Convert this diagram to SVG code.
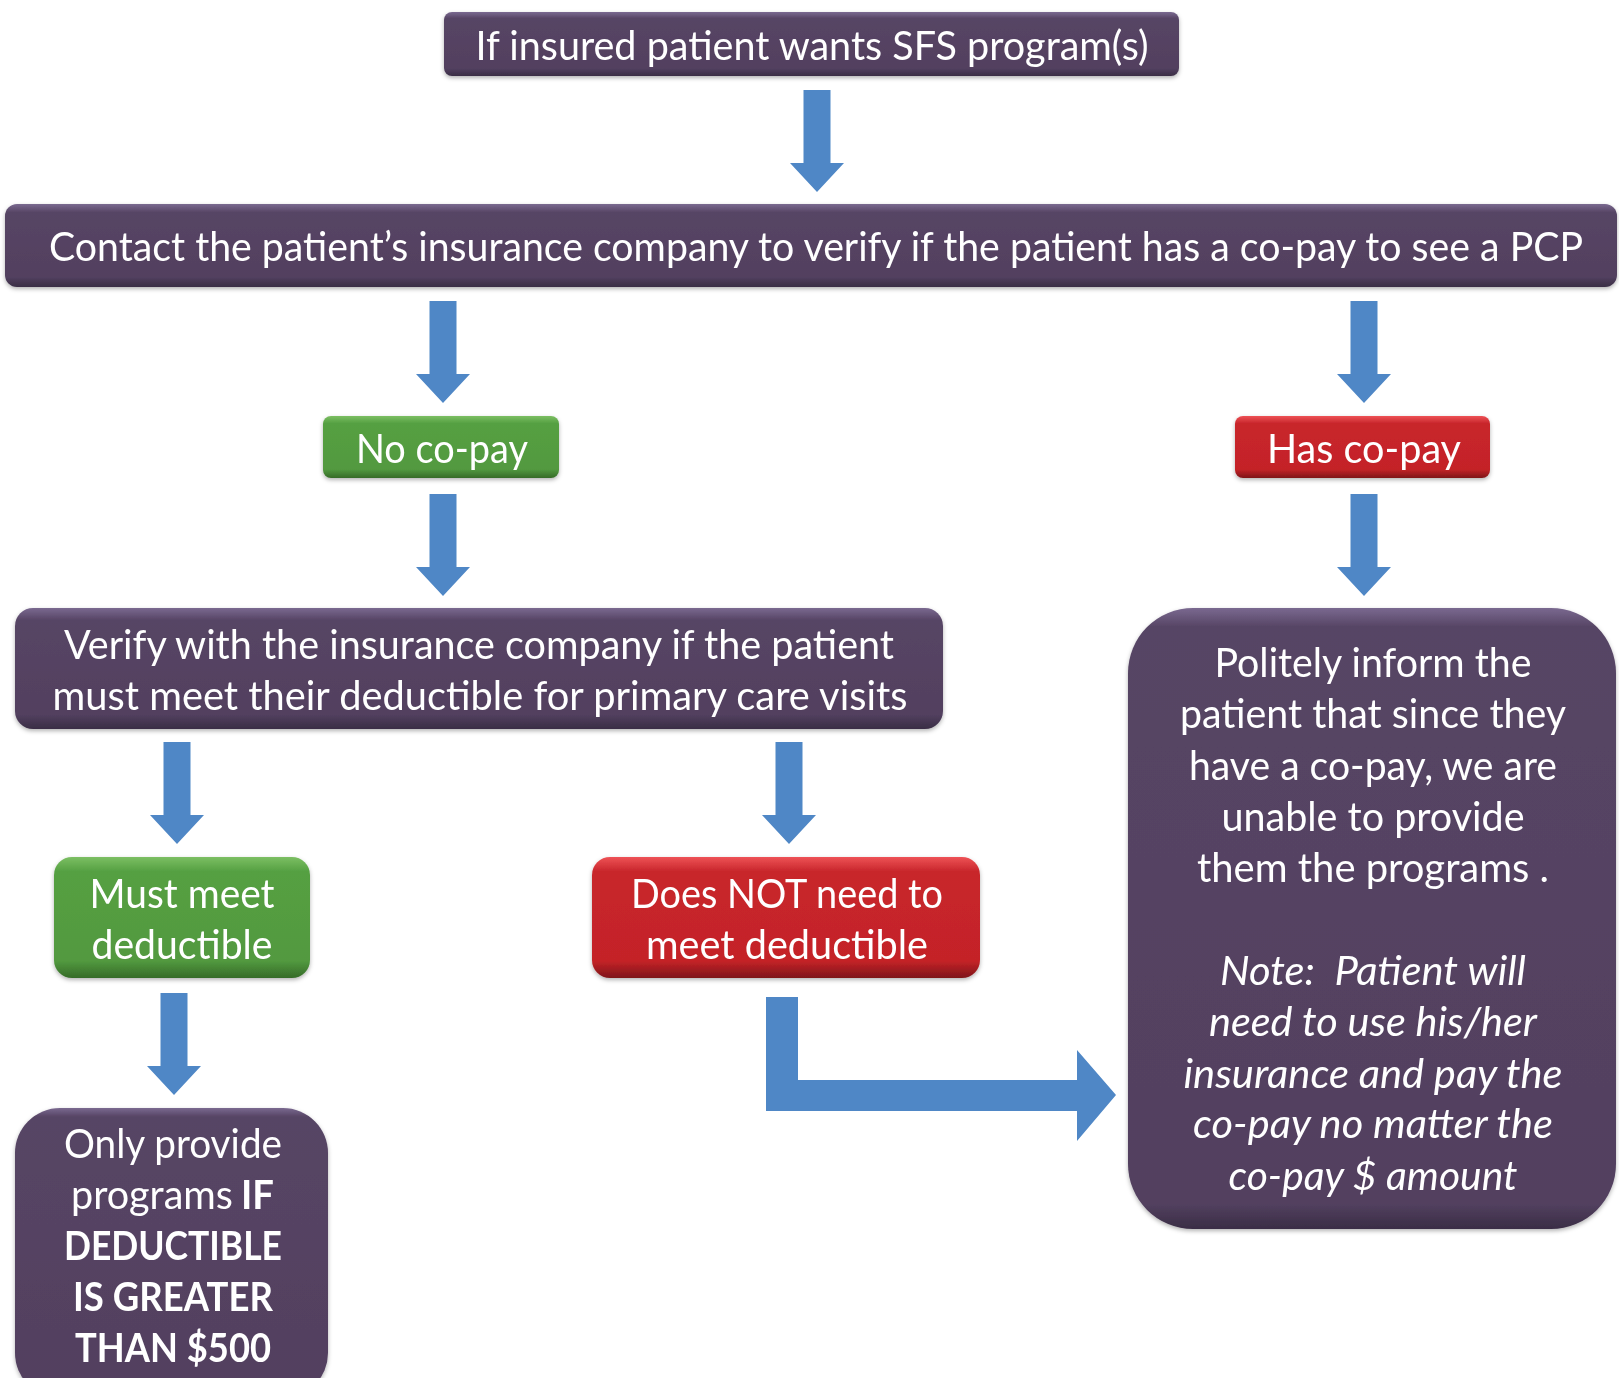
<svg xmlns="http://www.w3.org/2000/svg" xmlns:xlink="http://www.w3.org/1999/xlink" width="1619" height="1378" viewBox="0 0 1619 1378">
<style>
text{font-family:Lato,"Open Sans","Liberation Sans",sans-serif;fill:#ffffff;font-size:40px;text-anchor:middle}
.b{font-weight:bold}
.i{font-style:italic}
.s{text-anchor:start}
.arrow{fill:#4F87C6}
</style>
<defs>
<linearGradient id="gp" x1="0" y1="0" x2="0" y2="1">
<stop offset="0" stop-color="#7A6990"/><stop offset="0.1" stop-color="#574565"/><stop offset="0.88" stop-color="#52405F"/><stop offset="1" stop-color="#3A2D45"/>
</linearGradient>
<linearGradient id="gpt" x1="0" y1="0" x2="0" y2="1">
<stop offset="0" stop-color="#7A6990"/><stop offset="0.03" stop-color="#574565"/><stop offset="0.96" stop-color="#52405F"/><stop offset="1" stop-color="#3A2D45"/>
</linearGradient>
<linearGradient id="gg" x1="0" y1="0" x2="0" y2="1">
<stop offset="0" stop-color="#7CBF63"/><stop offset="0.12" stop-color="#55A042"/><stop offset="0.86" stop-color="#52993F"/><stop offset="1" stop-color="#356B28"/>
</linearGradient>
<linearGradient id="gr" x1="0" y1="0" x2="0" y2="1">
<stop offset="0" stop-color="#EE5256"/><stop offset="0.12" stop-color="#C8262B"/><stop offset="0.86" stop-color="#C42328"/><stop offset="1" stop-color="#7E1518"/>
</linearGradient>
<filter id="sh" x="-5%" y="-5%" width="110%" height="115%">
<feDropShadow dx="0" dy="2" stdDeviation="2" flood-color="#000" flood-opacity="0.3"/>
</filter>
<path id="dn" d="M-13.5,0 H13.5 V73 H27 L0,102 L-27,73 H-13.5 Z"/>
</defs>

<g id="connectors" class="arrow">
<use xlink:href="#dn" x="817" y="90"/>
<use xlink:href="#dn" x="443" y="301"/>
<use xlink:href="#dn" x="1364" y="301"/>
<use xlink:href="#dn" x="443" y="494"/>
<use xlink:href="#dn" x="1364" y="494"/>
<use xlink:href="#dn" x="177" y="742"/>
<use xlink:href="#dn" x="789" y="742"/>
<use xlink:href="#dn" x="174" y="993"/>
<path d="M766,997 H798 V1080 H1077 V1050 L1116,1095 L1077,1141 V1111 H766 Z"/>
</g>

<g id="start" filter="url(#sh)">
<rect x="444" y="12" width="735" height="64" rx="8" fill="url(#gp)"/>
<text x="812" y="60" textLength="673" lengthAdjust="spacingAndGlyphs">If insured patient wants SFS program(s)</text>
</g>

<g id="contact" filter="url(#sh)">
<rect x="5" y="204" width="1612" height="83" rx="12" fill="url(#gp)"/>
<text x="816" y="261" textLength="1534" lengthAdjust="spacingAndGlyphs">Contact the patient’s insurance company to verify if the patient has a co-pay to see a PCP</text>
</g>

<g id="nocopay" filter="url(#sh)">
<rect x="323" y="416" width="236" height="62" rx="8" fill="url(#gg)"/>
<text x="442" y="463" font-size="42" textLength="172" lengthAdjust="spacingAndGlyphs">No co-pay</text>
</g>

<g id="hascopay" filter="url(#sh)">
<rect x="1235" y="416" width="255" height="62" rx="8" fill="url(#gr)"/>
<text x="1364" y="463" font-size="43" textLength="194" lengthAdjust="spacingAndGlyphs">Has co-pay</text>
</g>

<g id="verify" filter="url(#sh)">
<rect x="15" y="608" width="928" height="121" rx="18" fill="url(#gp)"/>
<text x="479" y="659" textLength="830" lengthAdjust="spacingAndGlyphs">Verify with the insurance company if the patient</text>
<text x="480" y="710" textLength="855" lengthAdjust="spacingAndGlyphs">must meet their deductible for primary care visits</text>
</g>

<g id="mustmeet" filter="url(#sh)">
<rect x="54" y="857" width="256" height="121" rx="18" fill="url(#gg)"/>
<text x="182" y="908" textLength="185" lengthAdjust="spacingAndGlyphs">Must meet</text>
<text x="182" y="959" textLength="181" lengthAdjust="spacingAndGlyphs">deductible</text>
</g>

<g id="doesnot" filter="url(#sh)">
<rect x="592" y="857" width="388" height="121" rx="18" fill="url(#gr)"/>
<text x="787" y="908" textLength="312" lengthAdjust="spacingAndGlyphs">Does NOT need to</text>
<text x="787" y="959" textLength="282" lengthAdjust="spacingAndGlyphs">meet deductible</text>
</g>

<g id="onlyprovide" filter="url(#sh)">
<rect x="15" y="1108" width="313" height="290" rx="45" fill="url(#gpt)"/>
<text x="173" y="1158" textLength="218" lengthAdjust="spacingAndGlyphs">Only provide</text>
<text x="71" y="1209" class="s" textLength="162" lengthAdjust="spacingAndGlyphs">programs</text>
<text x="241" y="1209" class="s b" textLength="33" lengthAdjust="spacingAndGlyphs">IF</text>
<text x="173" y="1260" class="b" textLength="218" lengthAdjust="spacingAndGlyphs">DEDUCTIBLE</text>
<text x="173" y="1311" class="b" textLength="200" lengthAdjust="spacingAndGlyphs">IS GREATER</text>
<text x="173" y="1362" class="b" textLength="196" lengthAdjust="spacingAndGlyphs">THAN $500</text>
</g>

<g id="politely" filter="url(#sh)">
<rect x="1128" y="608" width="488" height="621" rx="65" fill="url(#gpt)"/>
<text x="1373" y="677" textLength="317" lengthAdjust="spacingAndGlyphs">Politely inform the</text>
<text x="1373" y="728" textLength="386" lengthAdjust="spacingAndGlyphs">patient that since they</text>
<text x="1373" y="780" textLength="368" lengthAdjust="spacingAndGlyphs">have a co-pay, we are</text>
<text x="1373" y="831" textLength="303" lengthAdjust="spacingAndGlyphs">unable to provide</text>
<text x="1373" y="882" textLength="352" lengthAdjust="spacingAndGlyphs">them the programs .</text>
<text x="1373" y="985" class="i" textLength="306" lengthAdjust="spacingAndGlyphs" xml:space="preserve">Note:  Patient will</text>
<text x="1373" y="1036" class="i" textLength="328" lengthAdjust="spacingAndGlyphs">need to use his/her</text>
<text x="1373" y="1088" class="i" textLength="379" lengthAdjust="spacingAndGlyphs">insurance and pay the</text>
<text x="1373" y="1138" class="i" textLength="360" lengthAdjust="spacingAndGlyphs">co-pay no matter the</text>
<text x="1373" y="1190" class="i" textLength="289" lengthAdjust="spacingAndGlyphs">co-pay $ amount</text>
</g>
</svg>
